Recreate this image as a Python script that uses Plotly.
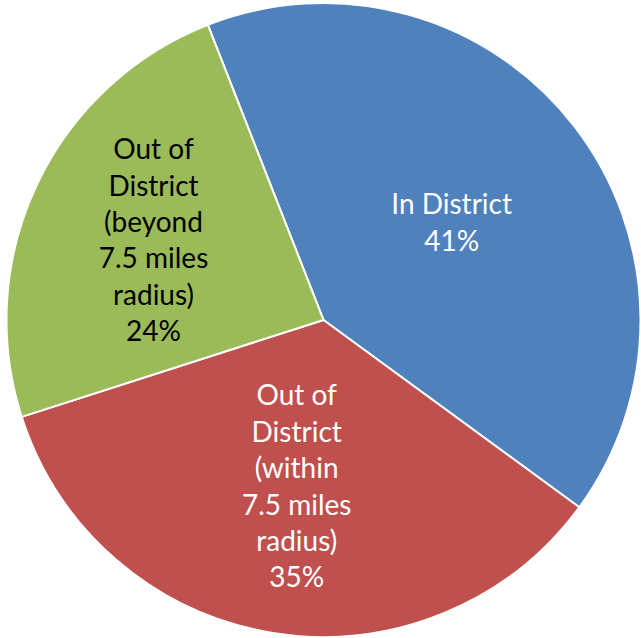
import plotly.graph_objects as go

labels = ["In District", "Out of District (within 7.5 miles radius)", "Out of District (beyond 7.5 miles radius)"]
texts = ["In District<br>41%",
         "Out of<br>District<br>(within<br>7.5 miles<br>radius)<br>35%",
         "Out of<br>District<br>(beyond<br>7.5 miles<br>radius)<br>24%"]
values = [41, 35, 24]
colors = ["#4F81BD", "#C0504D", "#9BBB59"]
font_colors = ["white", "white", "black"]

fig = go.Figure(go.Pie(
    labels=labels, values=values, text=texts, textinfo="text",
    sort=False, direction="clockwise", rotation=-21.4,
    marker=dict(colors=colors, line=dict(color="white", width=2)),
    textposition="inside", insidetextorientation="horizontal",
    textfont=dict(family="Lato, Open Sans, sans-serif", size=28, color=font_colors),
    hole=0, showlegend=False,
))
fig.update_layout(width=641, height=638, margin=dict(l=6, r=0, t=3, b=1),
                  paper_bgcolor="white", showlegend=False)
fig.write_html("out.html", config={"displayModeBar": False},
               post_script="document.body.style.margin='0';document.body.style.overflow='hidden';")
